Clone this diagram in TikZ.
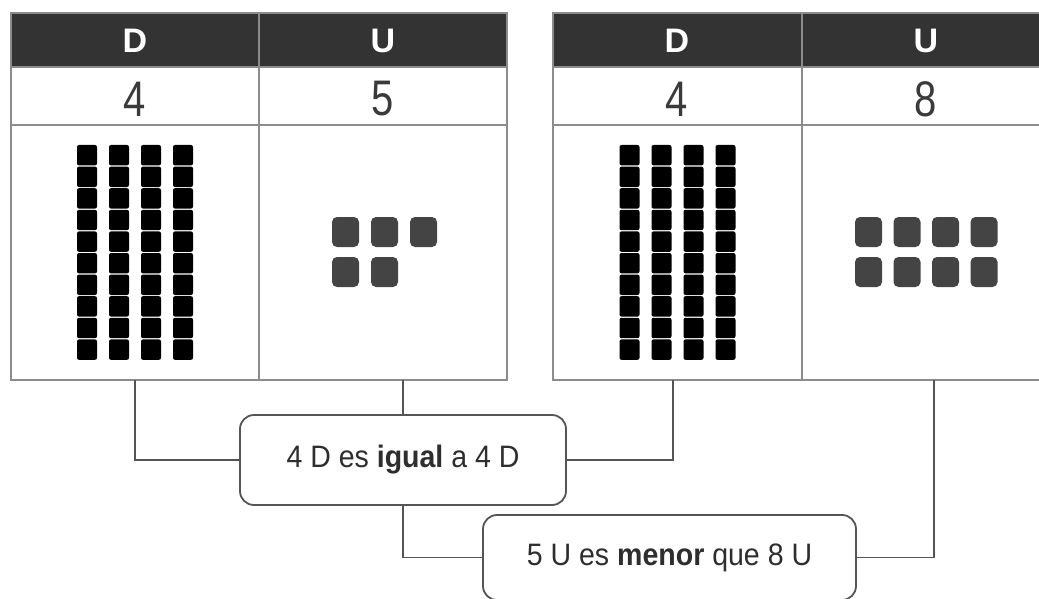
\documentclass[tikz,border=0pt]{standalone}
\usepackage{fontspec}
\setmainfont{Liberation Sans}
\newfontfamily\narrowsans[FakeStretch=0.92]{Liberation Sans}
\newfontfamily\digitsans[FakeStretch=0.8]{Liberation Sans}
\definecolor{headgray}{HTML}{333333}
\definecolor{gridgray}{HTML}{8C8C8C}
\definecolor{digitgray}{HTML}{3A3A3A}
\definecolor{unitgray}{HTML}{444444}
\definecolor{linegray}{HTML}{555555}
\definecolor{textgray}{HTML}{2E2E2E}
\begin{document}
\begin{tikzpicture}[x=1pt,y=-1pt,
  grid/.style={draw=gridgray,line width=2pt},
  headtxt/.style={text=white,font=\bfseries\fontsize{34}{34}\selectfont,inner sep=0pt},
  digit/.style={text=digitgray,font=\digitsans\fontsize{50}{50}\selectfont,inner sep=0pt},
  rodcube/.style={fill=black,rounded corners=2pt},
  unitsq/.style={fill=unitgray,rounded corners=5pt},
  stmt/.style={draw=linegray,line width=1.8pt,rounded corners=14pt,fill=white,
    text=textgray,font=\narrowsans\fontsize{31}{31}\selectfont,inner sep=0pt},
  conn/.style={draw=linegray,line width=1.6pt}]
\useasboundingbox (0,0) rectangle (1039,599);
\clip (0,0) rectangle (1039,599);

% ---------- left table ----------
\fill[headgray] (11,13) rectangle (507,67);
\draw[grid] (11,13) rectangle (507,380);
\draw[grid] (11,67) -- (507,67);
\draw[grid] (11,125) -- (507,125);
\draw[grid] (259,13) -- (259,380);
\node[headtxt] (lDh) at (135,41) {D};
\node[headtxt] (lUh) at (383,41) {U};
\node[digit] (lDn) at (135,99) {4};
\node[digit] (lUn) at (383,99) {5};
\foreach \i in {0,...,3}
  \foreach \j in {0,...,9}
    \fill[rodcube] ({77+32*\i},{145+21.6*\j}) rectangle ++(20,20.4);
\foreach \i in {0,1,2}
  \fill[unitsq] ({332+39*\i},217) rectangle ++(27,30);
\foreach \i in {0,1}
  \fill[unitsq] ({332+39*\i},257) rectangle ++(27,30);

% ---------- right table ----------
\fill[headgray] (553,13) rectangle (1050,67);
\draw[grid] (553,13) rectangle (1050,380);
\draw[grid] (553,67) -- (1050,67);
\draw[grid] (553,125) -- (1050,125);
\draw[grid] (802,13) -- (802,380);
\node[headtxt] (rDh) at (677,41) {D};
\node[headtxt] (rUh) at (926,41) {U};
\node[digit] (rDn) at (677,99) {4};
\node[digit] (rUn) at (926,99) {8};
\foreach \i in {0,...,3}
  \foreach \j in {0,...,9}
    \fill[rodcube] ({619.5+32*\i},{145+21.6*\j}) rectangle ++(20,20.4);
\foreach \r in {217,257}
  \foreach \i in {0,...,3}
    \fill[unitsq] ({855+38.5*\i},\r) rectangle ++(27,30);

% ---------- connector ends on the tables ----------
\coordinate (lDb) at (135,380);
\coordinate (lUb) at (403,380);
\coordinate (rDb) at (673,380);
\coordinate (rUb) at (934,380);

% ---------- statements ----------
\node[stmt,minimum width=326pt,minimum height=90pt] (b1) at (403,460)
  {4 D es \textbf{igual} a 4 D};
\node[stmt,minimum width=373pt,minimum height=85pt] (b2) at (669.5,557.5)
  {5 U es \textbf{menor} que 8 U};

\draw[conn] (lDb) |- (b1.west);
\draw[conn] (lUb) -- (b1.north);
\draw[conn] (b1.east) -| (rDb);
\draw[conn] (b1.south) |- (b2.west);
\draw[conn] (b2.east) -| (rUb);
\end{tikzpicture}
\end{document}
